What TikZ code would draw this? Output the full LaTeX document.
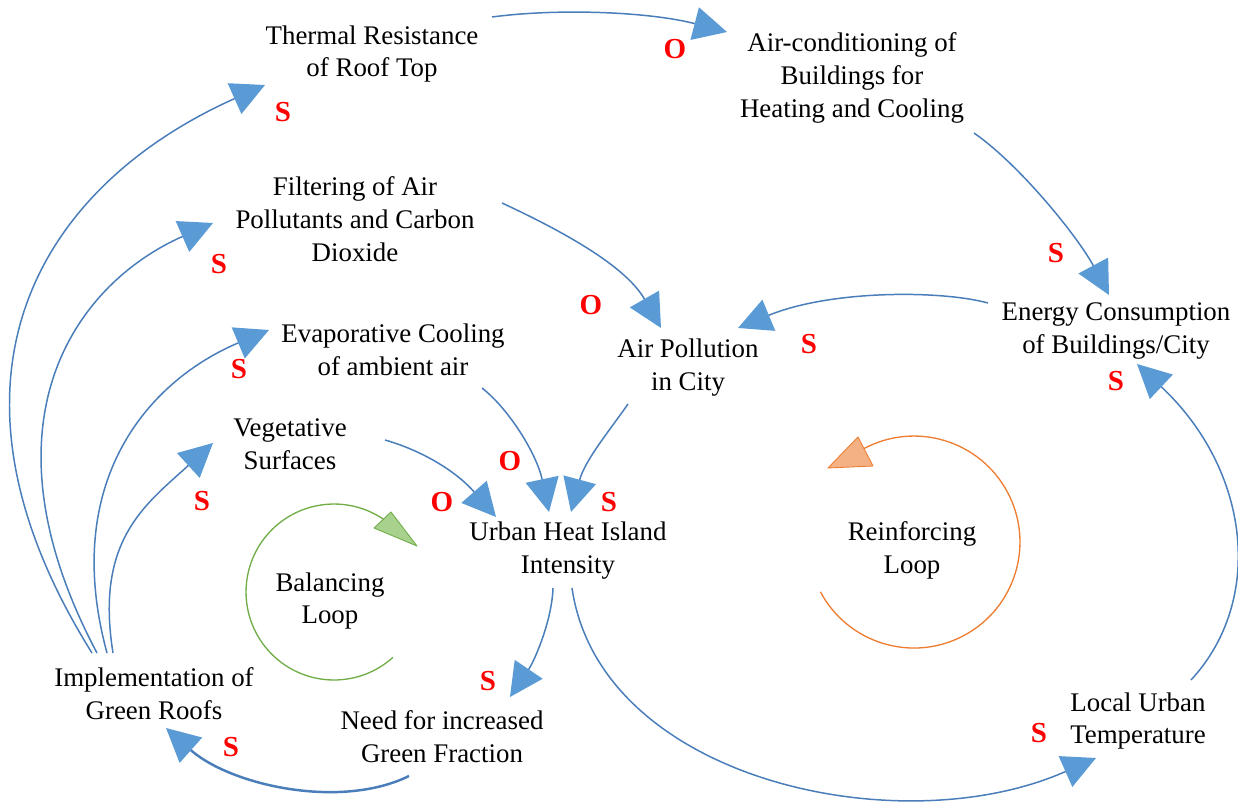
\documentclass[tikz,border=0pt]{standalone}
\usepackage{fontspec}
\setmainfont{Liberation Serif}
\usetikzlibrary{arrows.meta}
\definecolor{linkblue}{HTML}{4A7EBB}
\definecolor{headblue}{HTML}{5B9BD5}
\definecolor{balline}{HTML}{70AD47}
\definecolor{balfill}{HTML}{A9D18E}
\definecolor{reinline}{HTML}{ED7D31}
\definecolor{reinfill}{HTML}{F4B183}
\begin{document}
\begin{tikzpicture}[x=0.02cm,y=-0.02cm,
  var/.style={align=center,inner sep=0pt,font=\fontsize{15.3}{18.7}\selectfont},
  pol/.style={text=red,inner sep=0pt,font=\fontsize{16.5}{18}\selectfont\bfseries},
  link/.style={draw=linkblue,line width=0.85pt,
    -{Triangle[length=19pt,width=19pt,fill=headblue,color=headblue]}},
  thicklink/.style={link,line width=1.4pt},
  balarc/.style={draw=balline,line width=0.75pt},
  reinarc/.style={draw=reinline,line width=0.75pt},
]
\fill[white] (0,0) rectangle (1238,803);
\useasboundingbox (0,0) rectangle (1238,803);

% variables
\node[var] (thermal) at (372,54) {Thermal Resistance\\of Roof Top};
\node[var] (aircon)  at (852,78) {Air-conditioning of\\Buildings for\\Heating and Cooling};
\node[var] (filter)  at (355,219) {Filtering of Air\\Pollutants and Carbon\\Dioxide};
\node[var] (evap)    at (393,350) {Evaporative Cooling\\of ambient air};
\node[var] (airpol)  at (688,368) {Air Pollution\\in City};
\node[var] (energy)  at (1116,331) {Energy Consumption\\of Buildings/City};
\node[var] (veg)     at (290,444) {Vegetative\\Surfaces};
\node[var] (uhi)     at (568,551) {Urban Heat Island\\Intensity};
\node[var] (bal)     at (330,601) {Balancing\\Loop};
\node[var] (rein)    at (912,550) {Reinforcing\\Loop};
\node[var] (impl)    at (154,694) {Implementation of\\Green Roofs};
\node[var] (need)    at (442,737) {Need for increased\\Green Fraction};
\node[var] (local)   at (1138,721) {Local Urban\\Temperature};

% polarity labels
\node[pol] (p1)  at (675,49)   {O};
\node[pol] (p2)  at (283,112)  {S};
\node[pol] (p3)  at (219,264)  {S};
\node[pol] (p4)  at (591,305)  {O};
\node[pol] (p5)  at (239,369)  {S};
\node[pol] (p6)  at (1056,253) {S};
\node[pol] (p7)  at (809,344)  {S};
\node[pol] (p8)  at (1116,381) {S};
\node[pol] (p9)  at (202,501)  {S};
\node[pol] (p10) at (442,502)  {O};
\node[pol] (p11) at (510,461)  {O};
\node[pol] (p12) at (609,502)  {S};
\node[pol] (p13) at (488,681)  {S};
\node[pol] (p14) at (231,747)  {S};
\node[pol] (p15) at (1039,733) {S};

% causal links
\draw[link] ([shift={(120,-37)}]thermal.center) .. controls (560,8) and (650,12) .. ([shift={(-125,-46)}]aircon.center);
\draw[link] ([shift={(122,55)}]aircon.center) .. controls (1020,165) and (1078,237) .. ([shift={(-7,-36)}]energy.center);
\draw[link] ([shift={(-128,-28)}]energy.center) .. controls (940,290) and (830,290) .. ([shift={(50,-40)}]airpol.center);
\draw[link] ([shift={(147,-16)}]filter.center) .. controls (560,230) and (625,265) .. ([shift={(-27,-40)}]airpol.center);
\draw[link] ([shift={(89,38)}]evap.center) .. controls (510,410) and (537,455) .. ([shift={(-19,-39)}]uhi.center);
\draw[link] ([shift={(-60,36)}]airpol.center) .. controls (610,430) and (585,460) .. ([shift={(3,-39)}]uhi.center);
\draw[link] ([shift={(95,-4)}]veg.center) .. controls (420,450) and (455,470) .. ([shift={(-72,-34)}]uhi.center);
\draw[link] ([shift={(-15,37)}]uhi.center) .. controls (552,620) and (535,660) .. ([shift={(68,-40)}]need.center);
\draw[thicklink] ([shift={(-33,39)}]need.center) .. controls (340,810) and (230,785) .. ([shift={(12,34)}]impl.center);
\draw[link] ([shift={(4,37)}]uhi.center) .. controls (600,780) and (900,845) .. ([shift={(-42,37)}]local.center);
\draw[link] ([shift={(53,-41)}]local.center) .. controls (1265,600) and (1250,470) .. ([shift={(21,33)}]energy.center);
\draw[link] ([shift={(-62,-41)}]impl.center) .. controls (-78,381) and (37,187) .. ([shift={(-107,31)}]thermal.center);
\draw[link] ([shift={(-57,-41)}]impl.center) .. controls (-25,423) and (75,284) .. ([shift={(-142,4)}]filter.center);
\draw[link] ([shift={(-47,-41)}]impl.center) .. controls (60,480) and (150,380) .. ([shift={(-124,-20)}]evap.center);
\draw[link] ([shift={(-41,-41)}]impl.center) .. controls (95,540) and (145,505) .. ([shift={(-77,-1)}]veg.center);

% balancing loop marker
\draw[balarc] (392.9,657.4) arc[start angle=-48, end angle=-304, radius=1.76cm];
\filldraw[fill=balfill,draw=balline,line width=0.5pt,line join=round]
  (391,512) -- (374,528) -- (417,546) -- cycle;

% reinforcing loop marker
\draw[reinarc] (820.4,591.8) arc[start angle=208, end angle=478, radius=2.12cm];
\filldraw[fill=reinfill,draw=reinline,line width=0.5pt,line join=round]
  (828,468) -- (858,437) -- (873,466) -- cycle;
\end{tikzpicture}
\end{document}
